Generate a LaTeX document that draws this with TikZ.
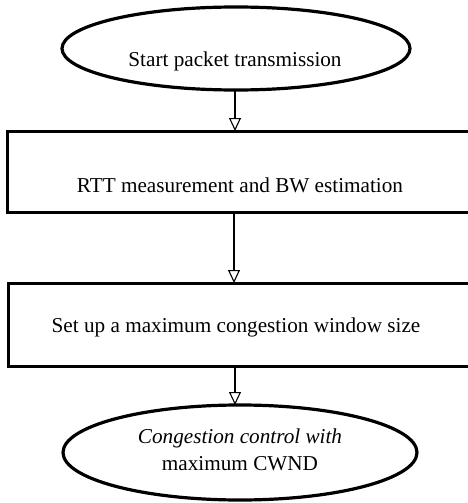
\documentclass[tikz,border=0pt]{standalone}
\usepackage{fontspec}
\setmainfont{Liberation Serif}
\usetikzlibrary{shapes.geometric,arrows.meta}
\begin{document}
\begin{tikzpicture}[x=1pt,y=-1pt,
  oval/.style={draw,ellipse,line width=3.2pt,inner sep=0pt},
  stepbox/.style={draw,rectangle,line width=3pt,inner sep=0pt},
  lbl/.style={font=\fontsize{21.2}{27}\selectfont,align=center,inner sep=0pt},
  flow/.style={line width=1.2pt,-{Triangle[open,width=12pt,length=13pt,line width=1.1pt]}}]
\useasboundingbox (0,0) rectangle (468,503);
\clip (0,0) rectangle (468,503);
\fill[white] (0,0) rectangle (468,503);
% shapes
\node[oval,minimum width=348pt,minimum height=83pt] (start) at (236,48.5) {};
\node[stepbox,minimum width=467pt,minimum height=81pt] (rtt) at (240.5,171.5) {};
\node[stepbox,minimum width=466pt,minimum height=83pt] (set) at (241,324.5) {};
\node[oval,minimum width=354pt,minimum height=95pt] (cc) at (240,452.5) {};
% texts
\node[lbl] (starttxt) at (235,61) {Start packet transmission};
\node[lbl] (rtttxt) at (240,185) {RTT measurement and BW estimation};
\node[lbl] (settxt) at (236,327) {Set up a maximum congestion window size};
\node[lbl] (cctxt) at (240,450) {\itshape Congestion control with\\ maximum CWND};
% connectors
\draw[flow] (235,90) -- (235,131);
\draw[flow] (234,212) -- (234,283);
\draw[flow] (235,366) -- (235,405);
\end{tikzpicture}
\end{document}
